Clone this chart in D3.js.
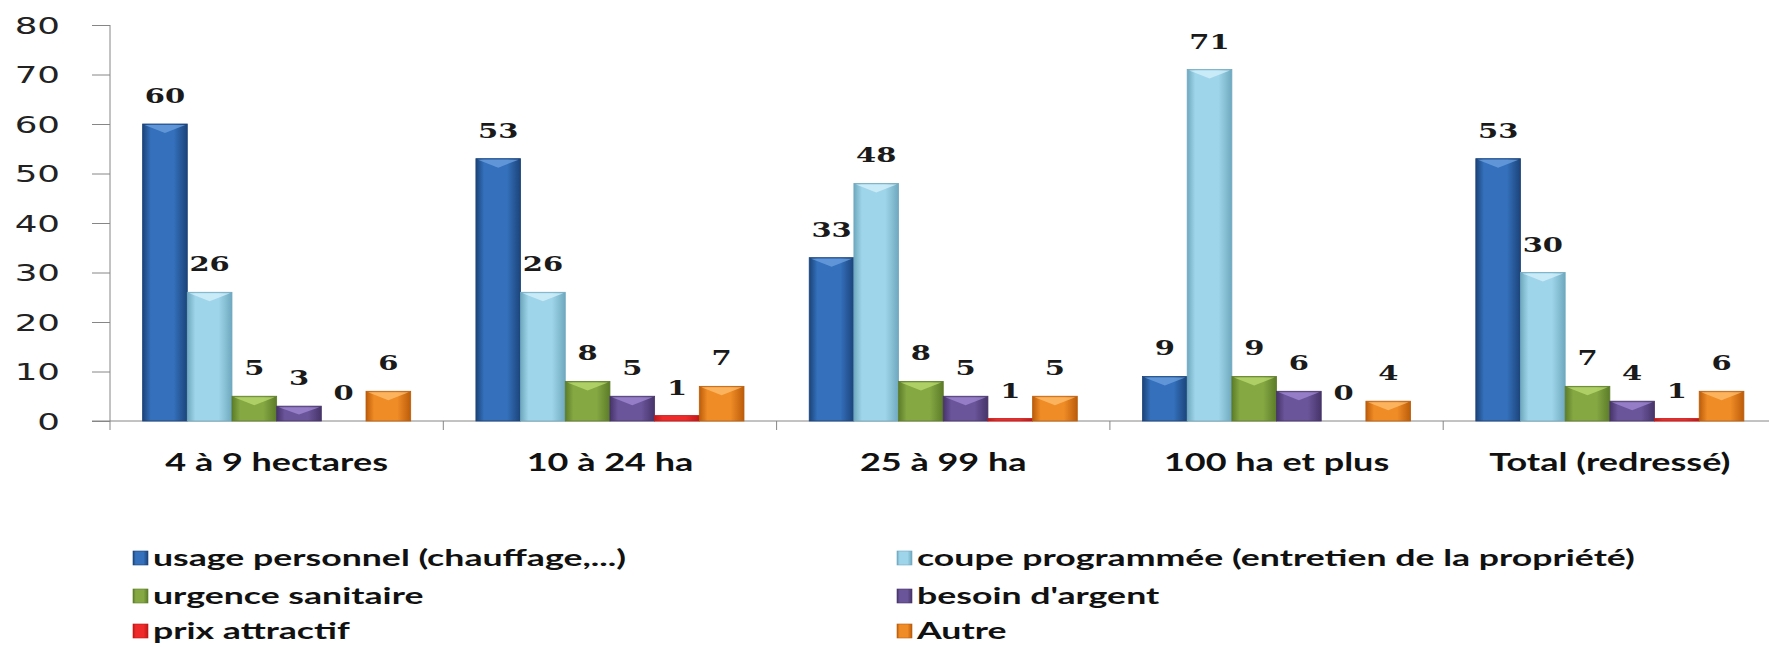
<!DOCTYPE html>
<html>
<head>
<meta charset="utf-8">
<script src="https://cdn.jsdelivr.net/npm/d3@7"></script>
<style>
  html, body { margin: 0; padding: 0; background: #fff; }
  svg { display: block; }
</style>
</head>
<body>
<svg id="chart"></svg>
<script>
// categories and series
var categories = ["4 à 9 hectares", "10 à 24 ha", "25 à 99 ha", "100 ha et plus", "Total (redressé)"];
var seriesNames = ["usage personnel (chauffage,...)", "coupe programmée (entretien de la propriété)",
    "urgence sanitaire", "besoin d'argent", "prix attractif", "Autre"];
var usagePersonnel = [60, 53, 33, 9, 53];
var coupeProgrammee = [26, 26, 48, 71, 30];
var urgenceSanitaire = [5, 8, 8, 9, 7];
var besoinArgent = [3, 5, 5, 6, 4];
var prixAttractif = [0, 1.1, 0.5, 0, 0.5];
var autre = [6, 7, 5, 4, 6];
var yTicks = [0, 10, 20, 30, 40, 50, 60, 70, 80];

var seriesValues = [usagePersonnel, coupeProgrammee, urgenceSanitaire, besoinArgent, prixAttractif, autre];

// edge / centre / top colours for the bevelled bars
var colors = [
    { edge: "#1b4379", mid: "#3470bb", top: "#6fa3e0" },
    { edge: "#6fa9bf", mid: "#9fd5ea", top: "#d5f1fb" },
    { edge: "#5c7c28", mid: "#85a843", top: "#bcdc70" },
    { edge: "#463469", mid: "#6a559a", top: "#a48bd6" },
    { edge: "#c01818", mid: "#ee2a2a", top: "#ff7a7a" },
    { edge: "#bb5c0a", mid: "#f08c26", top: "#ffc070" }
];

var W = 1769, H = 647;
var svg = d3.select("svg#chart").attr("width", W).attr("height", H);

var margin = { left: 110, top: 25 },
    groupW = 333.3,
    zeroY = 421;

// horizontal stretch of the texts (the original picture was widened)
var sxTick = 1.55, sxVal = 1.38, sxCat = 1.5, sxLeg = 1.55;

var defs = svg.append("defs");
colors.forEach(function (c, i) {
    var g = defs.append("linearGradient").attr("id", "grad" + i)
        .attr("x1", "0").attr("x2", "1").attr("y1", "0").attr("y2", "0");
    g.append("stop").attr("offset", "0%").attr("stop-color", c.edge);
    g.append("stop").attr("offset", "18%").attr("stop-color", c.mid);
    g.append("stop").attr("offset", "70%").attr("stop-color", c.mid);
    g.append("stop").attr("offset", "100%").attr("stop-color", c.edge);
});

var x0 = d3.scaleBand()
    .domain(categories)
    .range([margin.left, margin.left + groupW * categories.length])
    .padding(0);

var x1 = d3.scaleBand()
    .domain(d3.range(seriesNames.length))
    .range([0, x0.bandwidth()])
    .paddingInner(0)
    .paddingOuter(0.73);

var y = d3.scaleLinear()
    .domain([0, 80])
    .range([zeroY, margin.top]);

// y axis
var axisY = svg.append("g")
    .attr("transform", "translate(" + margin.left + ",0)")
    .call(d3.axisLeft(y).tickValues(yTicks).tickSize(18).tickPadding(0));
axisY.select(".domain").attr("stroke", "#868686").attr("d", "M0," + y(80) + "V" + (zeroY + 9));
axisY.selectAll(".tick line").attr("stroke", "#868686");
axisY.selectAll(".tick text")
    .attr("font-family", "DejaVu Sans")
    .attr("font-size", 23)
    .attr("fill", "#222")
    .attr("x", -50 / sxTick)
    .attr("dy", "0.36em")
    .attr("transform", "scale(" + sxTick + ",1)");

// x axis (baseline + category labels)
var axisX = svg.append("g")
    .attr("transform", "translate(0," + zeroY + ")")
    .call(d3.axisBottom(x0).tickSize(0).tickPadding(0));
axisX.select(".domain").attr("stroke", "#868686").attr("d", "M" + (margin.left - 18) + ",0H" + W);
axisX.selectAll(".tick text")
    .attr("font-family", "Lato")
    .attr("font-weight", "bold")
    .attr("font-size", 24)
    .attr("fill", "#111")
    .attr("y", 0)
    .attr("dy", 0)
    .attr("transform", "translate(0,50) scale(" + sxCat + ",1)");

// category divider ticks
var dividers = categories.map(function (c) { return x0(c); }).concat([x0.range()[1]]);
svg.append("g").selectAll("line")
    .data(dividers.slice(1))
    .enter().append("line")
    .attr("x1", function (d) { return d; })
    .attr("x2", function (d) { return d; })
    .attr("y1", zeroY)
    .attr("y2", zeroY + 9)
    .attr("stroke", "#868686");

// bars
var bars = svg.append("g").attr("class", "bars");
seriesValues.forEach(function (vals, s) {
    var sg = bars.append("g");
    var items = vals.map(function (v, i) { return { cat: categories[i], v: v }; });
    sg.selectAll("rect")
        .data(items)
        .enter().append("rect")
        .attr("x", function (d) { return x0(d.cat) + x1(s); })
        .attr("y", function (d) { return y(d.v); })
        .attr("width", x1.bandwidth())
        .attr("height", function (d) { return zeroY - y(d.v); })
        .attr("fill", "url(#grad" + s + ")")
        .attr("stroke", colors[s].edge)
        .attr("stroke-width", 0.8);
    // little bevel chevron at the top of each bar
    sg.selectAll("path")
        .data(items.filter(function (d) { return zeroY - y(d.v) > 6; }))
        .enter().append("path")
        .attr("d", function (d) {
            var bx = x0(d.cat) + x1(s), bw = x1.bandwidth(), by = y(d.v);
            var h = Math.min(8, (zeroY - by) / 2);
            return "M" + (bx + 2) + "," + (by + 1) + "L" + (bx + bw - 2) + "," + (by + 1) +
                "L" + (bx + bw / 2) + "," + (by + 1 + h) + "Z";
        })
        .attr("fill", colors[s].top)
        .attr("opacity", 0.75);
    // value labels
    sg.selectAll("text")
        .data(items)
        .enter().append("text")
        .attr("transform", function (d) {
            return "translate(" + (x0(d.cat) + x1(s) + x1.bandwidth() / 2) + "," + (y(d.v) - 21) + ") scale(" + sxVal + ",1)";
        })
        .attr("text-anchor", "middle")
        .attr("font-family", "DejaVu Serif")
        .attr("font-weight", "bold")
        .attr("font-size", 21)
        .attr("fill", "#1a1a1a")
        .text(function (d) { return Math.round(d.v); });
});

// legend
var legCols = [133, 897], legRows = [558, 596, 631];
var legend = svg.append("g").selectAll("g")
    .data(seriesNames)
    .enter().append("g")
    .attr("transform", function (d, i) {
        return "translate(" + legCols[i % 2] + "," + legRows[Math.floor(i / 2)] + ")";
    });
legend.append("rect")
    .attr("x", 0).attr("y", -7)
    .attr("width", 15).attr("height", 14)
    .attr("fill", function (d, i) { return "url(#grad" + i + ")"; })
    .attr("stroke", function (d, i) { return colors[i].edge; })
    .attr("stroke-width", 0.6);
legend.append("text")
    .attr("transform", "translate(20,0) scale(" + sxLeg + ",1)")
    .attr("dy", "0.33em")
    .attr("font-family", "Lato")
    .attr("font-weight", "bold")
    .attr("font-size", 23)
    .attr("fill", "#111")
    .text(function (d) { return d; });
</script>
</body>
</html>
